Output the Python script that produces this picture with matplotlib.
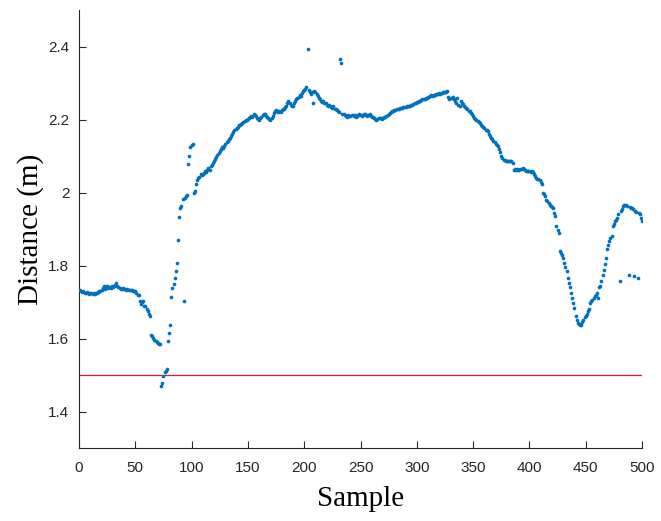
import numpy as np
import matplotlib
matplotlib.use('Agg')
import matplotlib.pyplot as plt

# distance readings, one per sample (1..500)
distance = [
    1.734, 1.731, 1.728, 1.730, 1.726, 1.724, 1.727, 1.725, 1.722, 1.724,
    1.726, 1.723, 1.725, 1.722, 1.726, 1.724, 1.727, 1.729, 1.731, 1.734,
    1.738, 1.743, 1.736, 1.740, 1.745, 1.739, 1.742, 1.738, 1.744, 1.740,
    1.743, 1.747, 1.752, 1.744, 1.740, 1.738, 1.737, 1.736, 1.738, 1.735,
    1.736, 1.734, 1.735, 1.733, 1.734, 1.732, 1.733, 1.730, 1.731, 1.729,
    1.724, 1.720, 1.718, 1.703, 1.694, 1.699, 1.703, 1.690, 1.688, 1.680,
    1.676, 1.668, 1.662, 1.610, 1.606, 1.601, 1.596, 1.593, 1.590, 1.588,
    1.586, 1.584, 1.469, 1.478, 1.497, 1.508, 1.512, 1.516, 1.593, 1.616,
    1.638, 1.714, 1.739, 1.748, 1.766, 1.784, 1.806, 1.870, 1.934, 1.958,
    1.962, 1.983, 1.702, 1.986, 1.990, 1.992, 2.077, 2.100, 2.124, 2.130,
    2.133, 1.998, 2.003, 2.022, 2.035, 2.040, 2.043, 2.050, 2.047, 2.052,
    2.054, 2.058, 2.056, 2.063, 2.066, 2.062, 2.072, 2.076, 2.080, 2.086,
    2.092, 2.096, 2.104, 2.108, 2.114, 2.118, 2.124, 2.121, 2.128, 2.134,
    2.138, 2.142, 2.146, 2.150, 2.156, 2.160, 2.166, 2.170, 2.174, 2.177,
    2.180, 2.184, 2.186, 2.188, 2.190, 2.194, 2.196, 2.198, 2.200, 2.202,
    2.204, 2.206, 2.210, 2.208, 2.214, 2.212, 2.209, 2.205, 2.202, 2.200,
    2.204, 2.208, 2.212, 2.214, 2.215, 2.210, 2.206, 2.205, 2.202, 2.200,
    2.204, 2.210, 2.218, 2.224, 2.227, 2.222, 2.220, 2.223, 2.221, 2.225,
    2.228, 2.230, 2.233, 2.238, 2.244, 2.250, 2.246, 2.240, 2.236, 2.238,
    2.244, 2.250, 2.255, 2.258, 2.262, 2.268, 2.265, 2.272, 2.277, 2.280,
    2.284, 2.290, 2.394, 2.282, 2.276, 2.270, 2.274, 2.246, 2.278, 2.274,
    2.270, 2.264, 2.258, 2.255, 2.252, 2.248, 2.250, 2.246, 2.244, 2.241,
    2.238, 2.240, 2.236, 2.234, 2.232, 2.236, 2.230, 2.228, 2.226, 2.223,
    2.220, 2.367, 2.355, 2.216, 2.214, 2.212, 2.210, 2.208, 2.212, 2.210,
    2.209, 2.211, 2.213, 2.210, 2.212, 2.208, 2.210, 2.213, 2.215, 2.212,
    2.210, 2.212, 2.215, 2.216, 2.213, 2.210, 2.212, 2.214, 2.210, 2.208,
    2.206, 2.204, 2.202, 2.200, 2.202, 2.204, 2.205, 2.203, 2.201, 2.204,
    2.206, 2.208, 2.210, 2.212, 2.215, 2.218, 2.220, 2.222, 2.224, 2.225,
    2.226, 2.228, 2.228, 2.230, 2.231, 2.232, 2.232, 2.233, 2.234, 2.235,
    2.236, 2.236, 2.237, 2.238, 2.240, 2.240, 2.242, 2.244, 2.246, 2.248,
    2.249, 2.250, 2.252, 2.254, 2.256, 2.255, 2.256, 2.258, 2.260, 2.262,
    2.263, 2.265, 2.266, 2.264, 2.266, 2.268, 2.270, 2.269, 2.271, 2.272,
    2.270, 2.273, 2.275, 2.276, 2.274, 2.276, 2.278, 2.262, 2.255, 2.258,
    2.260, 2.262, 2.256, 2.250, 2.246, 2.258, 2.240, 2.236, 2.250, 2.244,
    2.242, 2.238, 2.235, 2.232, 2.228, 2.224, 2.222, 2.218, 2.214, 2.209,
    2.205, 2.202, 2.198, 2.195, 2.192, 2.190, 2.186, 2.183, 2.180, 2.176,
    2.172, 2.170, 2.168, 2.160, 2.154, 2.150, 2.146, 2.140, 2.137, 2.133,
    2.130, 2.127, 2.118, 2.110, 2.100, 2.095, 2.090, 2.088, 2.086, 2.085,
    2.087, 2.086, 2.085, 2.086, 2.082, 2.063, 2.064, 2.062, 2.064, 2.063,
    2.062, 2.065, 2.064, 2.066, 2.065, 2.063, 2.060, 2.058, 2.059, 2.058,
    2.056, 2.058, 2.055, 2.050, 2.045, 2.040, 2.038, 2.036, 2.033, 2.028,
    2.022, 2.000, 1.995, 1.990, 1.980, 1.976, 1.972, 1.967, 1.962, 1.960,
    1.958, 1.945, 1.935, 1.908, 1.898, 1.890, 1.840, 1.835, 1.828, 1.820,
    1.808, 1.796, 1.784, 1.766, 1.752, 1.740, 1.725, 1.711, 1.697, 1.684,
    1.661, 1.650, 1.643, 1.640, 1.638, 1.638, 1.645, 1.652, 1.658, 1.661,
    1.668, 1.675, 1.680, 1.698, 1.702, 1.706, 1.711, 1.716, 1.720, 1.724,
    1.711, 1.740, 1.743, 1.757, 1.775, 1.789, 1.805, 1.820, 1.844, 1.855,
    1.867, 1.874, 1.880, 1.908, 1.914, 1.921, 1.926, 1.930, 1.940, 1.757,
    1.949, 1.955, 1.962, 1.965, 1.967, 1.967, 1.962, 1.773, 1.960, 1.958,
    1.958, 1.955, 1.770, 1.949, 1.946, 1.765, 1.944, 1.940, 1.930, 1.921,
]
samples = np.arange(1, len(distance) + 1)
threshold = 1.5

x_ticks = [0, 50, 100, 150, 200, 250, 300, 350, 400, 450, 500]
y_ticks = [1.4, 1.6, 1.8, 2.0, 2.2, 2.4]
y_tick_labels = ['1.4', '1.6', '1.8', '2', '2.2', '2.4']

fig = plt.figure(figsize=(6.61, 5.21), dpi=100)
ax = fig.add_axes([0.1195, 0.1401, 0.8518, 0.8407])

ax.scatter(samples, distance, s=7, color='#0072BD', linewidths=0, zorder=3)
ax.axhline(threshold, color='#D81E1E', lw=0.9, zorder=2)

ax.set_xlim(0, 500)
ax.set_ylim(1.3, 2.5)
ax.set_xticks(x_ticks)
ax.set_yticks(y_ticks)
ax.set_yticklabels(y_tick_labels)

for side in ['top', 'right']:
    ax.spines[side].set_visible(False)
for side in ['left', 'bottom']:
    ax.spines[side].set_color('#262626')
    ax.spines[side].set_linewidth(0.8)

ax.tick_params(direction='in', length=5, width=0.8, color='#262626',
               labelcolor='#262626', labelsize=11)
ax.tick_params(axis='x', pad=9)
ax.tick_params(axis='y', pad=7)
for lbl in ax.get_xticklabels() + ax.get_yticklabels():
    lbl.set_family('Liberation Sans')

ax.set_xlabel('Sample', family='Liberation Serif', fontsize=21, labelpad=8)
ax.set_ylabel('Distance (m)', family='Liberation Serif', fontsize=21, labelpad=3)

fig.savefig('out.png', dpi=100)
